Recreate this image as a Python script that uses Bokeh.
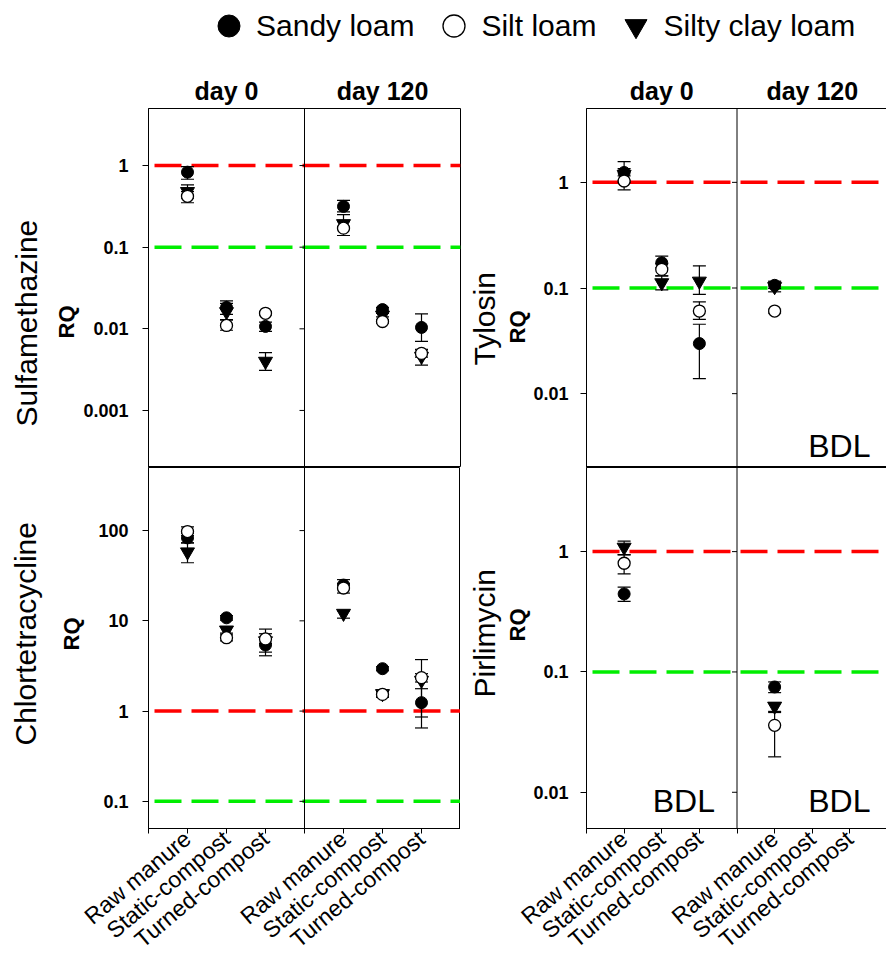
import numpy as np
from bokeh.plotting import figure
from bokeh.models import (Range1d, FixedTicker, Span, Whisker, TeeHead, LinearAxis,
                          ColumnDataSource, Label, Legend, LegendItem, Title)
from bokeh.layouts import row, column
from bokeh.embed import file_html
from bokeh.resources import INLINE

nan = float("nan")

treatments = ["Raw manure", "Static-compost", "Turned-compost"]
days = ["day 0", "day 120"]
soils = ["Sandy loam", "Silt loam", "Silty clay loam"]
thresholds = [1, 0.1]

# order of the six values: day 0 (raw, static, turned), day 120 (raw, static, turned)
# Sulfamethazine
sulf_sandy    = [0.83, 0.0183, 0.0107, 0.316, 0.0172, 0.0104]
sulf_sandy_lo = [0.68, 0.0150, 0.0093, 0.270, 0.0162, 0.0070]
sulf_sandy_hi = [0.97, 0.0220, 0.0121, 0.375, 0.0183, 0.0152]
sulf_silt     = [0.42, 0.0110, 0.0155, 0.171, 0.0123, 0.0050]
sulf_silt_lo  = [0.35, 0.0096, 0.0148, 0.139, 0.0117, 0.0045]
sulf_silt_hi  = [0.48, 0.0128, 0.0163, 0.205, 0.0130, 0.0056]
sulf_clay     = [0.48, 0.0162, 0.0040, 0.194, 0.0147, 0.0046]
sulf_clay_lo  = [0.40, 0.0130, 0.0031, 0.165, 0.0140, 0.0036]
sulf_clay_hi  = [0.58, 0.0205, 0.0051, 0.250, 0.0155, 0.0055]
sulf_ticks = [1, 0.1, 0.01, 0.001]
sulf_tick_labels = ["1", "0.1", "0.01", "0.001"]

# Chlortetracycline
chl_sandy    = [83, 10.8, 5.4, 24.9, 2.95, 1.24]
chl_sandy_lo = [73, 10.2, 4.1, 22.5, 2.80, 0.65]
chl_sandy_hi = [93, 11.4, 6.4, 28.6, 3.10, 1.77]
chl_silt     = [97.5, 6.5, 6.3, 23.1, 1.53, 2.35]
chl_silt_lo  = [88, 6.0, 5.6, 20.3, 1.42, 2.10]
chl_silt_hi  = [110, 7.0, 8.1, 26.0, 1.65, 2.60]
chl_clay     = [58, 7.9, 6.0, 12.1, 1.56, 2.19]
chl_clay_lo  = [44, 7.3, 4.5, 10.7, 1.45, 0.86]
chl_clay_hi  = [73, 8.5, 7.2, 12.9, 1.70, 3.72]
chl_ticks = [100, 10, 1, 0.1]
chl_tick_labels = ["100", "10", "1", "0.1"]

# Tylosin
tyl_sandy    = [1.24, 0.173, 0.0298, 0.106, nan, nan]
tyl_sandy_lo = [1.00, 0.155, 0.0139, 0.099, nan, nan]
tyl_sandy_hi = [1.57, 0.200, 0.0454, 0.114, nan, nan]
tyl_silt     = [1.03, 0.150, 0.0605, 0.0605, nan, nan]
tyl_silt_lo  = [0.85, 0.130, 0.0505, 0.0580, nan, nan]
tyl_silt_hi  = [1.15, 0.170, 0.0740, 0.0630, nan, nan]
tyl_clay     = [1.19, 0.112, 0.116, 0.103, nan, nan]
tyl_clay_lo  = [1.05, 0.096, 0.087, 0.092, nan, nan]
tyl_clay_hi  = [1.35, 0.130, 0.162, 0.116, nan, nan]
tyl_ticks = [1, 0.1, 0.01]
tyl_tick_labels = ["1", "0.1", "0.01"]

# Pirlimycin
pir_sandy    = [0.445, nan, nan, 0.075, nan, nan]
pir_sandy_lo = [0.386, nan, nan, 0.0673, nan, nan]
pir_sandy_hi = [0.506, nan, nan, 0.0826, nan, nan]
pir_silt     = [0.80, nan, nan, 0.036, nan, nan]
pir_silt_lo  = [0.652, nan, nan, 0.0197, nan, nan]
pir_silt_hi  = [0.94, nan, nan, 0.046, nan, nan]
pir_clay     = [1.087, nan, nan, 0.0519, nan, nan]
pir_clay_lo  = [0.944, nan, nan, 0.047, nan, nan]
pir_clay_hi  = [1.22, nan, nan, 0.0556, nan, nan]
pir_ticks = [1, 0.1, 0.01]
pir_tick_labels = ["1", "0.1", "0.01"]

FONT = "Liberation Sans"
n_t = len(treatments)
x_pos = [d * (n_t + 1) + t + 1 for d in range(len(days)) for t in range(n_t)]
x_max = len(days) * (n_t + 1)
day_centers = [d * (n_t + 1) + (n_t + 1) / 2 for d in range(len(days))]

soil_styles = [
    dict(marker="circle", fill_color="black", line_color="black", size=12),
    dict(marker="circle", fill_color="white", line_color="black", line_width=1.3, size=12),
    dict(marker="inverted_triangle", fill_color="black", line_color="black", size=14),
]
draw_order = [0, 2, 1]
threshold_colors = ["#ff0000", "#00ee00"]
bdl_xoff = [-22, -17]


def make_panel(drug, yr, ticks, tick_labels, series, bdl_days, top, fw, bl, br,
               lab_st, rq_st, name_st, rq_off, name_off, bdl_y):
    fh = 359 if top else 361
    p = figure(frame_width=fw, frame_height=fh,
               x_range=Range1d(0, x_max), y_range=Range1d(*yr),
               y_axis_type="log", x_axis_location=None if top else "below",
               output_backend="svg", toolbar_location=None,
               min_border_left=bl, min_border_right=br,
               min_border_top=50 if top else 0, min_border_bottom=0,
               background_fill_color="white", border_fill_color="white")
    p.grid.visible = False
    p.outline_line_color = "black"
    p.outline_line_width = 1
    p.outline_line_alpha = 1

    ya = p.yaxis[0]
    ya.ticker = FixedTicker(ticks=ticks)
    ya.major_label_overrides = dict(zip(ticks, tick_labels))
    ya.major_label_text_font = FONT
    ya.major_label_text_font_size = "18px"
    ya.major_label_text_font_style = "bold"
    ya.major_label_text_color = "black"
    ya.major_tick_out = 6
    ya.major_tick_in = 0
    ya.minor_tick_line_color = None
    ya.axis_line_color = "black"
    ya.major_tick_line_color = "black"
    ya.major_label_standoff = lab_st

    if not top:
        xa = p.xaxis[0]
        xa.ticker = FixedTicker(ticks=list(range(x_max + 1)))
        ov = {i: "" for i in range(x_max + 1)}
        ov.update({x: lab for x, lab in zip(x_pos, treatments * len(days))})
        xa.major_label_overrides = ov
        xa.major_label_orientation = np.deg2rad(40)
        xa.major_label_text_font = FONT
        xa.major_label_text_font_size = "23px"
        xa.major_label_text_color = "black"
        xa.major_tick_out = 5
        xa.major_tick_in = 0
        xa.minor_tick_line_color = None
        xa.axis_line_color = "black"
        xa.major_tick_line_color = "black"
        xa.major_label_standoff = 2
    else:
        head = LinearAxis(ticker=FixedTicker(ticks=day_centers),
                          major_label_overrides=dict(zip(day_centers, days)),
                          major_label_text_font=FONT, major_label_text_font_size="25px",
                          major_label_text_font_style="bold", major_label_text_color="black",
                          major_tick_out=0, major_tick_in=0, major_tick_line_color=None,
                          minor_tick_line_color=None, axis_line_color=None,
                          major_label_standoff=4)
        p.add_layout(head, "above")

    for thr, col in zip(thresholds, threshold_colors):
        p.add_layout(Span(location=thr, dimension="width", line_color=col,
                          line_width=3.5, line_dash="27 10", line_dash_offset=31,
                          level="underlay"))

    mid = x_max / 2
    p.add_layout(Span(location=mid, dimension="height", line_color="black", line_width=1))
    p.ray(x=[mid] * len(ticks), y=ticks, length=5, length_units="screen",
          angle=np.pi, line_color="black", line_width=1)

    for si in draw_order:
        vals, lo, hi = series[si]
        keep = [i for i in range(len(vals)) if np.isfinite(vals[i])]
        src = ColumnDataSource(dict(x=[x_pos[i] for i in keep], y=[vals[i] for i in keep],
                                    lo=[lo[i] for i in keep], hi=[hi[i] for i in keep]))
        p.add_layout(Whisker(source=src, base="x", lower="lo", upper="hi", dimension="height",
                             line_color="black", line_width=1.2,
                             upper_head=TeeHead(size=13, line_color="black", line_width=1.2),
                             lower_head=TeeHead(size=13, line_color="black", line_width=1.2)))
    for si in draw_order:
        vals, lo, hi = series[si]
        keep = [i for i in range(len(vals)) if np.isfinite(vals[i])]
        src = ColumnDataSource(dict(x=[x_pos[i] for i in keep], y=[vals[i] for i in keep]))
        p.scatter("x", "y", source=src, **soil_styles[si])

    for d in bdl_days:
        p.add_layout(Label(x=(d + 1) * (n_t + 1), y=bdl_y, x_units="data", y_units="screen",
                           x_offset=bdl_xoff[d],
                           text="BDL", text_align="right", text_baseline="middle",
                           text_font=FONT, text_font_size="32px", text_color="black"))

    p.add_layout(Title(text="RQ", text_font=FONT, text_font_size="22px", text_font_style="bold",
                       align="left", offset=rq_off, standoff=rq_st, text_color="black"), "left")
    p.add_layout(Title(text=drug, text_font=FONT, text_font_size="30px", text_font_style="normal",
                       align="left", offset=name_off, standoff=name_st, text_color="black"), "left")
    return p


sulf = make_panel("Sulfamethazine", (0.0002, 5), sulf_ticks, sulf_tick_labels,
                  [(sulf_sandy, sulf_sandy_lo, sulf_sandy_hi),
                   (sulf_silt, sulf_silt_lo, sulf_silt_hi),
                   (sulf_clay, sulf_clay_lo, sulf_clay_hi)],
                  [], True, 312, 145, 3, 14, 3, 15, 129, 41, 0)
chl = make_panel("Chlortetracycline", (0.05, 500), chl_ticks, chl_tick_labels,
                 [(chl_sandy, chl_sandy_lo, chl_sandy_hi),
                  (chl_silt, chl_silt_lo, chl_silt_hi),
                  (chl_clay, chl_clay_lo, chl_clay_hi)],
                 [], False, 312, 145, 3, 14, 24, 5, 178, 83, 0)
tyl = make_panel("Tylosin", (0.002, 5), tyl_ticks, tyl_tick_labels,
                 [(tyl_sandy, tyl_sandy_lo, tyl_sandy_hi),
                  (tyl_silt, tyl_silt_lo, tyl_silt_hi),
                  (tyl_clay, tyl_clay_lo, tyl_clay_hi)],
                 [1], True, 301, 123, 1, 12, 2, 2, 124, 102, 22)
pir = make_panel("Pirlimycin", (0.005, 5), pir_ticks, pir_tick_labels,
                 [(pir_sandy, pir_sandy_lo, pir_sandy_hi),
                  (pir_silt, pir_silt_lo, pir_silt_hi),
                  (pir_clay, pir_clay_lo, pir_clay_hi)],
                 [0, 1], False, 301, 123, 1, 12, 2, 2, 187, 131, 28)

leg = figure(width=886, height=58, x_range=Range1d(0, 1), y_range=Range1d(0, 1),
             x_axis_location=None, y_axis_location=None, min_border=0,
             outline_line_color=None, output_backend="svg", toolbar_location=None)
leg.grid.visible = False
items = []
for soil, st in zip(soils, soil_styles):
    r = leg.scatter(x=[nan], y=[nan], **st)
    items.append(LegendItem(label=soil, renderers=[r]))
legend = Legend(items=items, orientation="horizontal", location=(201, 5),
                glyph_width=55, glyph_height=55, label_standoff=0, spacing=12,
                padding=0, margin=0, border_line_color=None, background_fill_alpha=0,
                label_text_font=FONT, label_text_font_size="30px", label_text_color="black")
leg.add_layout(legend, "center")

page = column(leg, row(column(sulf, chl), column(tyl, pir)))
open("out.html", "w").write(file_html(page, INLINE))
